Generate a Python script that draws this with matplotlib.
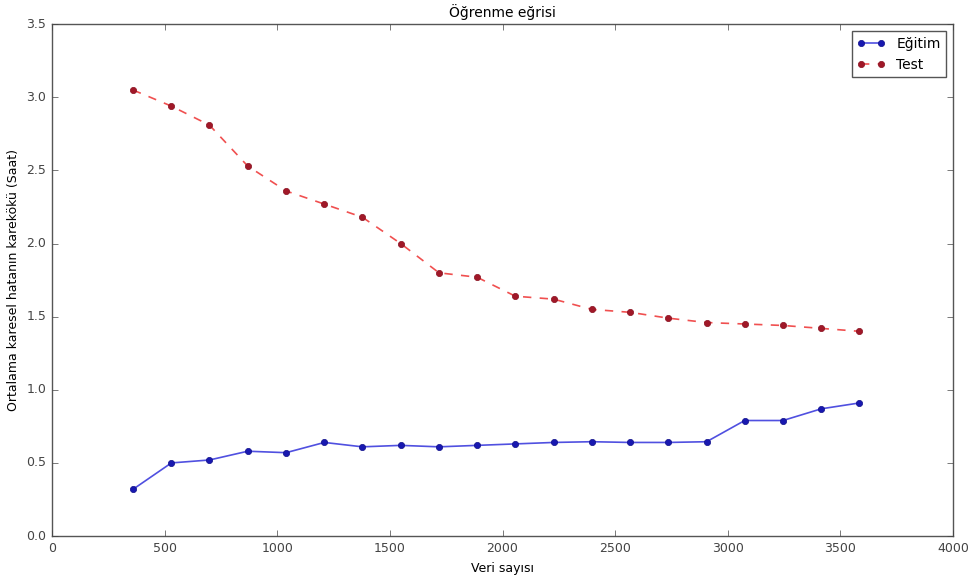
import matplotlib
matplotlib.use("Agg")
import matplotlib.pyplot as plt

plt.style.use("classic")

train_sizes = [360, 530, 699, 869, 1039, 1209, 1378, 1548, 1718, 1887,
               2057, 2227, 2396, 2566, 2736, 2906, 3075, 3245, 3415, 3584]
train_rmse = [0.32, 0.50, 0.52, 0.58, 0.57, 0.64, 0.61, 0.62, 0.61, 0.62,
              0.63, 0.64, 0.645, 0.64, 0.64, 0.645, 0.79, 0.79, 0.87, 0.91]
test_rmse = [3.05, 2.94, 2.81, 2.53, 2.36, 2.27, 2.18, 2.00, 1.80, 1.77,
             1.64, 1.62, 1.55, 1.53, 1.49, 1.46, 1.45, 1.44, 1.42, 1.40]

fig = plt.figure(figsize=(9.72, 5.77), dpi=100, facecolor="white")
ax = fig.add_axes([0.0535, 0.071, 0.927, 0.887])

ax.plot(train_sizes, train_rmse, "o-", color="#5050e0", markersize=4.5,
        markeredgecolor="#10108a", markerfacecolor="#1818b0", label="Eğitim", linewidth=1.2)
ax.plot(train_sizes, test_rmse, "o--", color="#f05050", markersize=4.5,
        markeredgecolor="#8a1020", markerfacecolor="#a01828", label="Test", linewidth=1.2)

ax.set_xlim(0, 4000)
ax.set_ylim(0, 3.5)
ax.set_xticks([0, 500, 1000, 1500, 2000, 2500, 3000, 3500, 4000])
ax.set_yticks([0.0, 0.5, 1.0, 1.5, 2.0, 2.5, 3.0, 3.5])
ax.tick_params(labelsize=9, colors="#444444")
for s in ax.spines.values():
    s.set_color("#555555")
ax.set_title("Öğrenme eğrisi", fontsize=10)
ax.set_xlabel("Veri sayısı", fontsize=9)
ax.set_ylabel("Ortalama karesel hatanın karekökü (Saat)", fontsize=9)
leg = ax.legend(loc="upper right", fontsize=10, numpoints=2)
leg.get_frame().set_edgecolor("#555555")

fig.savefig("out.png", dpi=100, facecolor="white")
